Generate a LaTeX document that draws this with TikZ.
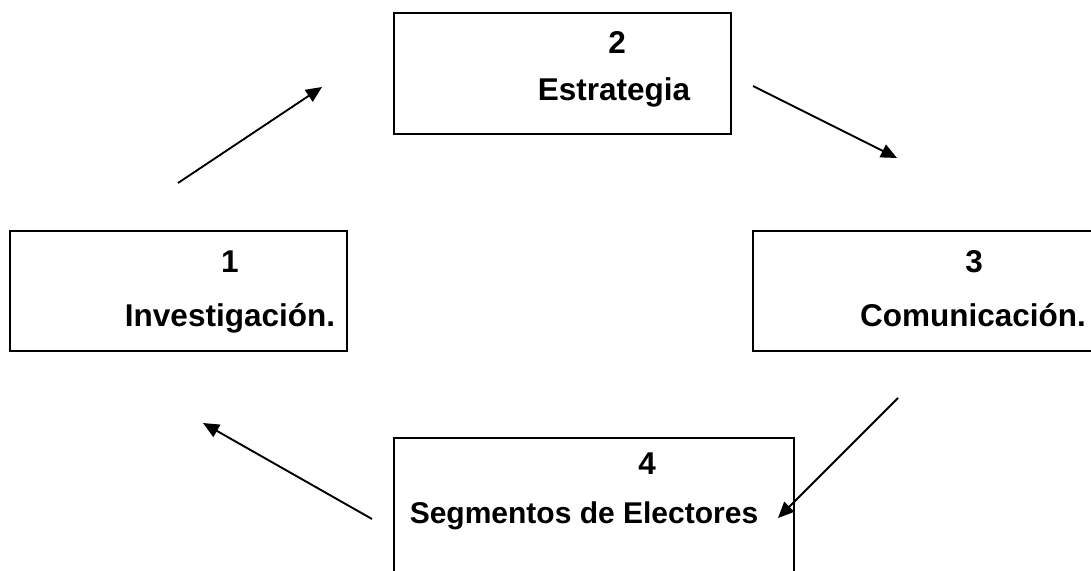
\documentclass[tikz,border=0pt]{standalone}
\usepackage{fontspec}
\setmainfont{Liberation Sans}
\usetikzlibrary{arrows.meta}
\begin{document}
\begin{tikzpicture}[x=1pt,y=-1pt,
  boxstyle/.style={draw=black,line width=1.4pt,rectangle,inner sep=0pt},
  lbl/.style={font=\fontsize{31.5}{36}\selectfont\bfseries,anchor=base,inner sep=0pt},
  arr/.style={line width=1.9pt,-{Triangle[length=16pt,width=14pt]}}]
\useasboundingbox[fill=white] (0,0) rectangle (1091,570);
% boxes
\node[boxstyle,minimum width=337pt,minimum height=120pt] (b1) at (178.5,291) {};
\node[boxstyle,minimum width=337pt,minimum height=121pt] (b2) at (562.5,73.5) {};
\node[boxstyle,minimum width=347pt,minimum height=120pt] (b3) at (926.5,291) {};
\node[boxstyle,minimum width=400pt,minimum height=162pt] (b4) at (594,519) {};
% texts
\node[lbl] (n1) at (230,272) {1};
\node[lbl] (t1) at (230,326) {Investigación.};
\node[lbl] (n2) at (617,53) {2};
\node[lbl] (t2) at (614,100) {Estrategia};
\node[lbl] (n3) at (974,272) {3};
\node[lbl] (t3) at (973,326) {Comunicación.};
\node[lbl] (n4) at (647,474) {4};
\node[lbl,font=\fontsize{30}{36}\selectfont\bfseries] (t4) at (584,523) {Segmentos de Electores};
% arrow end points
\coordinate (a1s) at (178,183); \coordinate (a1e) at (322,87);
\coordinate (a2s) at (753,86);  \coordinate (a2e) at (897,158);
\coordinate (a3s) at (898,398); \coordinate (a3e) at (778,518);
\coordinate (a4s) at (372,519); \coordinate (a4e) at (203,423);
\draw[arr] (a1s) -- (a1e);
\draw[arr] (a2s) -- (a2e);
\draw[arr] (a3s) -- (a3e);
\draw[arr] (a4s) -- (a4e);
\end{tikzpicture}
\end{document}
